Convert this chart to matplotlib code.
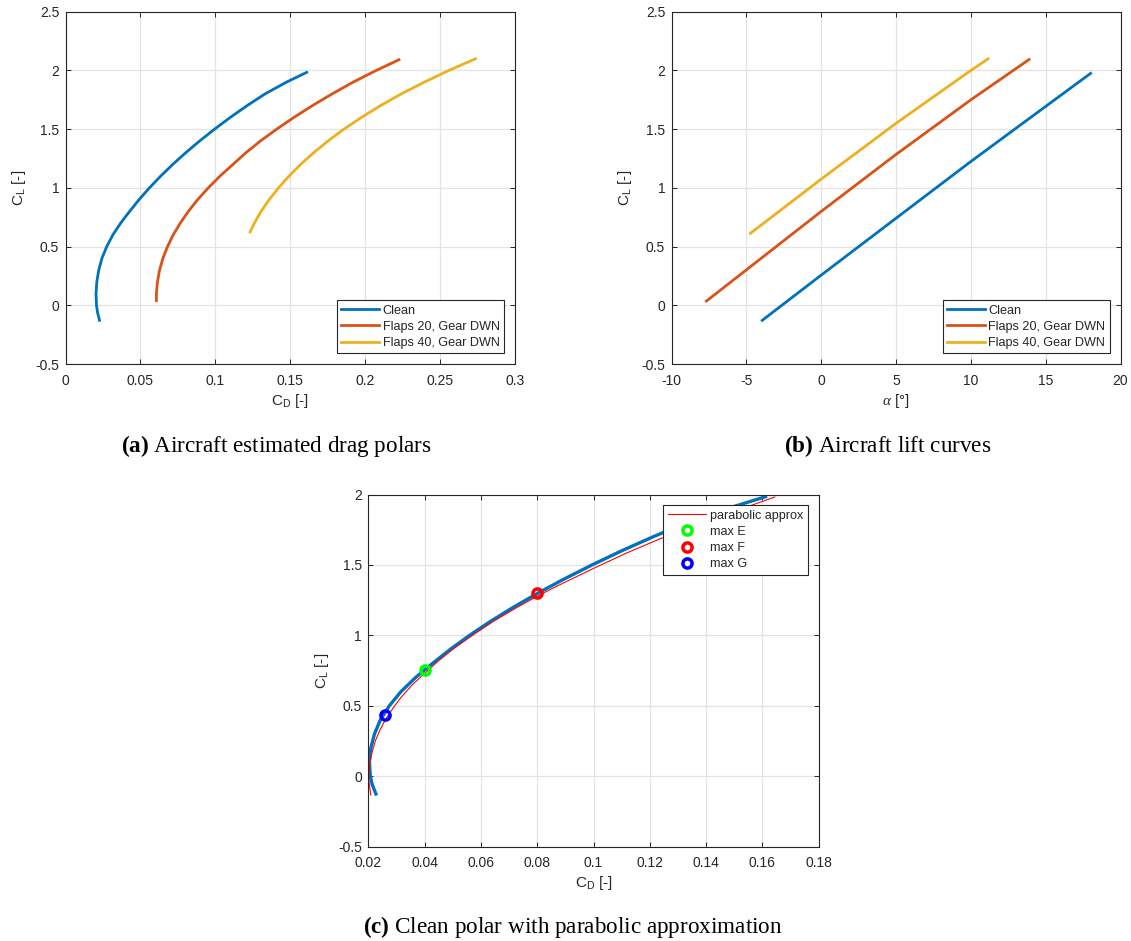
import matplotlib
matplotlib.use('Agg')
import matplotlib.pyplot as plt

# clean polar, C_D vs C_L
clean_cl = [-0.127, -0.06, 0.0, 0.10, 0.20, 0.30, 0.40, 0.50, 0.60, 0.70, 0.751, 0.80,
            0.90, 1.00, 1.10, 1.20, 1.30, 1.40, 1.50, 1.60, 1.70, 1.80, 1.90, 1.984]
clean_cd = [0.0227, 0.0214, 0.0207, 0.0204, 0.0209, 0.0222, 0.0243, 0.0275, 0.0316, 0.0368,
            0.0398, 0.0428, 0.0491, 0.0560, 0.0635, 0.0716, 0.0803, 0.0896, 0.0995, 0.1100,
            0.1212, 0.1332, 0.1475, 0.1611]

# flaps 20 / gear down polar
f20_cl = [0.042, 0.10, 0.20, 0.30, 0.40, 0.50, 0.60, 0.70, 0.80, 0.90, 1.00, 1.10,
          1.20, 1.30, 1.40, 1.50, 1.60, 1.70, 1.80, 1.90, 2.00, 2.091]
f20_cd = [0.0607, 0.0607, 0.0614, 0.0628, 0.0650, 0.0681, 0.0719, 0.0766, 0.0820, 0.0882,
          0.0953, 0.1031, 0.1118, 0.1205, 0.1302, 0.1410, 0.1525, 0.1648, 0.1780, 0.1920,
          0.2075, 0.2227]

# flaps 40 / gear down polar
f40_cl = [0.626, 0.70, 0.80, 0.90, 1.00, 1.10, 1.20, 1.30, 1.40, 1.50, 1.60, 1.70,
          1.80, 1.90, 2.00, 2.099]
f40_cd = [0.1233, 0.1261, 0.1306, 0.1360, 0.1422, 0.1492, 0.1570, 0.1657, 0.1753, 0.1859,
          0.1976, 0.2103, 0.2241, 0.2396, 0.2560, 0.2738]

# lift curves, alpha in deg
clean_alpha = [-3.94, 0.0, 5.0, 10.0, 15.0, 18.0]
clean_cla = [-0.127, 0.258, 0.742, 1.225, 1.694, 1.975]
f20_alpha = [-7.67, 0.0, 5.0, 10.0, 13.89]
f20_cla = [0.037, 0.800, 1.285, 1.750, 2.093]
f40_alpha = [-4.73, 0.0, 5.0, 10.0, 11.15]
f40_cla = [0.614, 1.075, 1.550, 2.000, 2.099]

# parabolic approximation of the clean polar
para_cl = [-0.135, -0.05, 0.0, 0.10, 0.174, 0.25, 0.33, 0.409, 0.50, 0.563, 0.65, 0.733,
           0.82, 0.90, 1.00, 1.10, 1.20, 1.284, 1.349, 1.474, 1.585, 1.685, 1.80, 1.90, 1.982]
para_cd = [0.0209, 0.0203, 0.0202, 0.0206, 0.0214, 0.0225, 0.0242, 0.0263, 0.0294, 0.0318,
           0.0357, 0.0402, 0.0450, 0.0500, 0.0570, 0.0645, 0.0730, 0.0806, 0.0870, 0.0999,
           0.1118, 0.1236, 0.1390, 0.1528, 0.1644]

# optimum points
pt_names = ['max E', 'max F', 'max G']
pt_cd = [0.0400, 0.0799, 0.0258]
pt_cl = [0.751, 1.298, 0.435]
pt_colors = ['#00ff00', '#ff0000', '#0000ff']

labels = ['Clean', 'Flaps 20, Gear DWN', 'Flaps 40, Gear DWN']
colors = ['#0072BD', '#D95319', '#EDB120']

plt.rcParams['font.family'] = ['Liberation Sans', 'DejaVu Sans']
plt.rcParams['mathtext.fontset'] = 'custom'
plt.rcParams['mathtext.rm'] = 'Liberation Sans'
plt.rcParams['mathtext.it'] = 'Liberation Serif:italic'
plt.rcParams['mathtext.bf'] = 'Liberation Serif:bold'
plt.rcParams['mathtext.default'] = 'regular'
plt.rcParams['axes.unicode_minus'] = False
plt.rcParams['axes.edgecolor'] = '#262626'

W, H = 1131, 941
fig = plt.figure(figsize=(W / 100, H / 100), dpi=100)
TXT = '#262626'


def make_axes(x0, y0, x1, y1):
    # pixel box -> figure fraction
    ax = fig.add_axes([x0 / W, 1 - y1 / H, (x1 - x0) / W, (y1 - y0) / H])
    ax.grid(True, color='#e3e3e3', linewidth=0.9)
    ax.set_axisbelow(True)
    ax.tick_params(direction='in', top=True, right=True, labelsize=10,
                   length=3.6, width=0.7, colors=TXT)
    ax.tick_params(axis='x', pad=7)
    ax.tick_params(axis='y', pad=4.5)
    for s in ax.spines.values():
        s.set_linewidth(0.8)
    return ax


def add_legend(ax, loc, textpad):
    leg = ax.legend(loc=loc, fontsize=9.1, fancybox=False, framealpha=1,
                    handlelength=3.0, handletextpad=textpad, borderaxespad=0.85,
                    labelspacing=0.33, borderpad=0.35)
    leg.get_frame().set_edgecolor(TXT)
    leg.get_frame().set_linewidth(0.8)
    for t in leg.get_texts():
        t.set_color(TXT)
    return leg


# (a) drag polars
ax = make_axes(65.5, 11.7, 514.7, 364.2)
for cd, cl, c, lab in zip([clean_cd, f20_cd, f40_cd], [clean_cl, f20_cl, f40_cl], colors, labels):
    ax.plot(cd, cl, color=c, lw=2, label=lab)
ax.set_xlim(0, 0.3)
ax.set_ylim(-0.5, 2.5)
ax.set_xticks([0, 0.05, 0.1, 0.15, 0.2, 0.25, 0.3])
ax.set_xticklabels(['0', '0.05', '0.1', '0.15', '0.2', '0.25', '0.3'])
ax.set_yticks([-0.5, 0, 0.5, 1, 1.5, 2, 2.5])
ax.set_yticklabels(['-0.5', '0', '0.5', '1', '1.5', '2', '2.5'])
ax.set_xlabel('C$_D$ [-]', fontsize=11, color=TXT, labelpad=3)
ax.set_ylabel('C$_L$ [-]', fontsize=11, color=TXT, labelpad=5)
add_legend(ax, 'lower right', 0.25)

# (b) lift curves
ax = make_axes(671.5, 11.7, 1120.5, 364.2)
for a, cl, c, lab in zip([clean_alpha, f20_alpha, f40_alpha], [clean_cla, f20_cla, f40_cla], colors, labels):
    ax.plot(a, cl, color=c, lw=2, label=lab)
ax.set_xlim(-10, 20)
ax.set_ylim(-0.5, 2.5)
ax.set_yticks([-0.5, 0, 0.5, 1, 1.5, 2, 2.5])
ax.set_yticklabels(['-0.5', '0', '0.5', '1', '1.5', '2', '2.5'])
ax.set_xlabel(r'$\mathit{\alpha}$ [°]', fontsize=11, color=TXT, labelpad=3)
ax.set_ylabel('C$_L$ [-]', fontsize=11, color=TXT, labelpad=5)
add_legend(ax, 'lower right', 0.25)

# (c) clean polar with parabolic fit
ax = make_axes(368.3, 494.5, 818.7, 846.5)
ax.plot(clean_cd, clean_cl, color=colors[0], lw=2.4)
ax.plot(para_cd, para_cl, color='#ff0000', lw=0.8, label='parabolic approx')
for n, x, y, c in zip(pt_names, pt_cd, pt_cl, pt_colors):
    ax.plot(x, y, 'o', ms=6.6, mfc='none', mec=c, mew=2.5, linestyle='none', label=n)
ax.set_xlim(0.02, 0.18)
ax.set_ylim(-0.5, 2)
ax.set_xticks([0.02, 0.04, 0.06, 0.08, 0.1, 0.12, 0.14, 0.16, 0.18])
ax.set_xticklabels(['0.02', '0.04', '0.06', '0.08', '0.1', '0.12', '0.14', '0.16', '0.18'])
ax.set_yticks([-0.5, 0, 0.5, 1, 1.5, 2])
ax.set_yticklabels(['-0.5', '0', '0.5', '1', '1.5', '2'])
ax.set_xlabel('C$_D$ [-]', fontsize=11, color=TXT, labelpad=3)
ax.set_ylabel('C$_L$ [-]', fontsize=11, color=TXT, labelpad=5)
add_legend(ax, 'upper right', 0.35)

# captions
cap = dict(fontsize=16.7, family=['Liberation Serif', 'DejaVu Serif'], ha='center', va='center')
fig.text(276 / W, 1 - 446 / H, r'$\mathbf{(a)}$ Aircraft estimated drag polars', **cap)
fig.text(888 / W, 1 - 446 / H, r'$\mathbf{(b)}$ Aircraft lift curves', **cap)
fig.text(573 / W, 1 - 927 / H, r'$\mathbf{(c)}$ Clean polar with parabolic approximation', **cap)

fig.savefig('out.png', dpi=100)
